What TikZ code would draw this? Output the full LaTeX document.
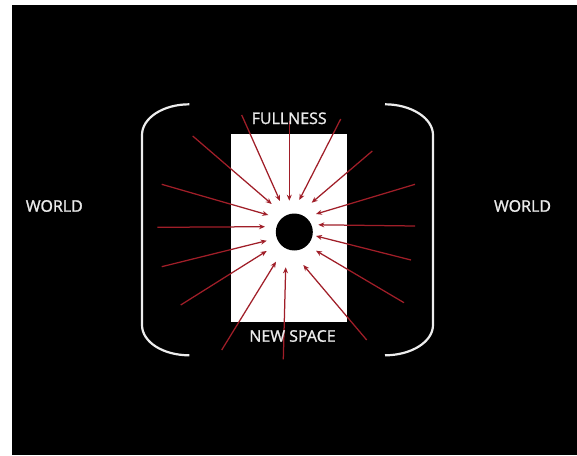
\documentclass[tikz,border=0pt]{standalone}
\usepackage{fontspec}
\setmainfont{Open Sans}
\newfontfamily\labelfont{Open Sans}[BoldFont={Open Sans}, BoldFeatures={FakeBold=1.3}]
\usetikzlibrary{arrows.meta}
\definecolor{arrowred}{RGB}{160,30,40}
\definecolor{textgray}{RGB}{235,235,235}
\tikzset{
  ray/.style={draw=arrowred, line width=1.25pt, -{Stealth[length=6pt,width=5pt]}},
  bracketline/.style={draw=white!93!black, line width=2.2pt},
  label/.style={text=textgray, font=\labelfont\bfseries\fontsize{16}{18}\selectfont, inner sep=0pt, anchor=center}
}
\begin{document}
\begin{tikzpicture}[x=1pt,y=-1pt]
\useasboundingbox (0,0) rectangle (577,455);
\fill[white] (0,0) rectangle (577,455);
\fill[black] (12,5) rectangle (577,455);
% white box
\node[fill=white, minimum width=116pt, minimum height=188pt, inner sep=0pt, draw=none] (box) at (289,228) {};
% hole
\node[circle, fill=black, minimum size=37pt, inner sep=0pt] (hole) at (294.3,232) {};
% brackets
\draw[bracketline] (189.3,104.3) .. controls (163,104.3) and (142,118) .. (142,135) -- (142,325) .. controls (142,342) and (163,355.3) .. (189.3,355.3);
\draw[bracketline] (385,104.3) .. controls (411,104.3) and (433,118) .. (433,135) -- (433,325) .. controls (433,342) and (411,355.3) .. (385,355.3);
% ray coordinates
\coordinate (s1) at (192.7,136);   \coordinate (e1) at (271.7,204);
\coordinate (s2) at (241.7,115);   \coordinate (e2) at (280,201);
\coordinate (s3) at (289.3,121);   \coordinate (e3) at (289.3,200.7);
\coordinate (s4) at (340.7,119);   \coordinate (e4) at (299.3,200);
\coordinate (s5) at (372.3,151);   \coordinate (e5) at (311.7,202.7);
\coordinate (s6) at (415,184.3);   \coordinate (e6) at (316,214);
\coordinate (s7) at (415,226);     \coordinate (e7) at (318.3,224.8);
\coordinate (s8) at (411,260);     \coordinate (e8) at (316,236);
\coordinate (s9) at (404,302.7);   \coordinate (e9) at (316,250.7);
\coordinate (s10) at (366.7,340);  \coordinate (e10) at (303.3,265);
\coordinate (s11) at (283.3,359.3);\coordinate (e11) at (285.7,267.3);
\coordinate (s12) at (221.7,350);  \coordinate (e12) at (276,261.7);
\coordinate (s13) at (180.7,305);  \coordinate (e13) at (266.7,251);
\coordinate (s14) at (161.7,266.7);\coordinate (e14) at (266.7,240.7);
\coordinate (s15) at (157.3,227.3);\coordinate (e15) at (265,226.7);
\coordinate (s16) at (161.7,184.3);\coordinate (e16) at (268.3,215);
\foreach \i in {1,...,16} { \draw[ray] (s\i) -- (e\i); }
% labels
\node[label] (full) at (289.2,118.3) {FULLNESS};
\node[label] (newspace) at (292.5,336) {NEW SPACE};
\node[label] (worldl) at (54.3,206) {WORLD};
\node[label] (worldr) at (522.5,206) {WORLD};
\end{tikzpicture}
\end{document}
